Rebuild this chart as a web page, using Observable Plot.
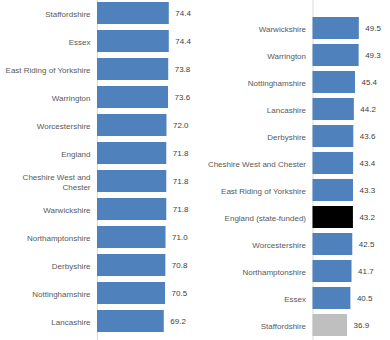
<!DOCTYPE html>
<html>
<head>
<meta charset="utf-8">
<script src="https://cdn.jsdelivr.net/npm/d3@7"></script>
<script src="https://cdn.jsdelivr.net/npm/@observablehq/plot@0.6"></script>
<style>
  html, body { margin: 0; padding: 0; background: #fff; }
  #wrap { display: flex; width: 390px; height: 340px; overflow: hidden; }
  #wrap svg { display: block; }
</style>
</head>
<body>
<div id="wrap"></div>
<script>
// Left panel
const leftCategories = ["Staffordshire", "Essex", "East Riding of Yorkshire", "Warrington", "Worcestershire", "England", "Cheshire West and Chester", "Warwickshire", "Northamptonshire", "Derbyshire", "Nottinghamshire", "Lancashire"];
const leftValues = [74.4, 74.4, 73.8, 73.6, 72.0, 71.8, 71.8, 71.8, 71.0, 70.8, 70.5, 69.2];
const leftGroups = ["la", "la", "la", "la", "la", "la", "la", "la", "la", "la", "la", "la"];

// Right panel
const rightCategories = ["Warwickshire", "Warrington", "Nottinghamshire", "Lancashire", "Derbyshire", "Cheshire West and Chester", "East Riding of Yorkshire", "England (state-funded)", "Worcestershire", "Northamptonshire", "Essex", "Staffordshire"];
const rightValues = [49.5, 49.3, 45.4, 44.2, 43.6, 43.4, 43.3, 43.2, 42.5, 41.7, 40.5, 36.9];
const rightGroups = ["la", "la", "la", "la", "la", "la", "la", "england", "la", "la", "la", "staffs"];

const groupDomain = ["la", "england", "staffs"];
const groupColors = ["#4F81BD", "#000000", "#BFBFBF"];

const FONT = "Liberation Sans, Arial, sans-serif";

function makePanel(cats, vals, groups, opts) {
  const data = cats.map((c, i) => ({cat: c, value: vals[i], group: groups[i]}));
  return Plot.plot({
    width: 195,
    height: 340,
    marginLeft: opts.marginLeft,
    marginRight: opts.marginRight,
    marginTop: 0,
    marginBottom: 0,
    style: {fontFamily: FONT, fontSize: "8px", background: "#fff", color: "#595959"},
    x: {domain: opts.xDomain, axis: null},
    y: {domain: cats, paddingInner: 0.2, paddingOuter: opts.padOuter, align: opts.align, label: null},
    color: {domain: groupDomain, range: groupColors},
    marks: [
      Plot.ruleX([0], {stroke: "#D9D9D9", strokeWidth: 1}),
      Plot.barX(data, {y: "cat", x: "value", fill: "group"}),
      Plot.text(data, {
        y: "cat", x: "value", text: d => d.value.toFixed(1),
        textAnchor: "start", dx: 6, fill: "#404040", fontSize: 8
      }),
      Plot.axisY({
        tickSize: 0, tickPadding: 7, label: null, fontSize: 8,
        tickFormat: opts.tickFormat || (d => d), lineHeight: 1.25
      })
    ]
  });
}

const wrap = document.getElementById("wrap");
wrap.append(makePanel(leftCategories, leftValues, leftGroups, {
  marginLeft: 97, marginRight: 1.5, xDomain: [0, 100], padOuter: 0.13, align: 0.23,
  tickFormat: d => d === "Cheshire West and Chester" ? "Cheshire West and\nChester" : d
}));
wrap.append(makePanel(rightCategories, rightValues, rightGroups, {
  marginLeft: 117.5, marginRight: 12, xDomain: [0, 70], padOuter: 0.29, align: 0.79
}));
</script>
</body>
</html>
